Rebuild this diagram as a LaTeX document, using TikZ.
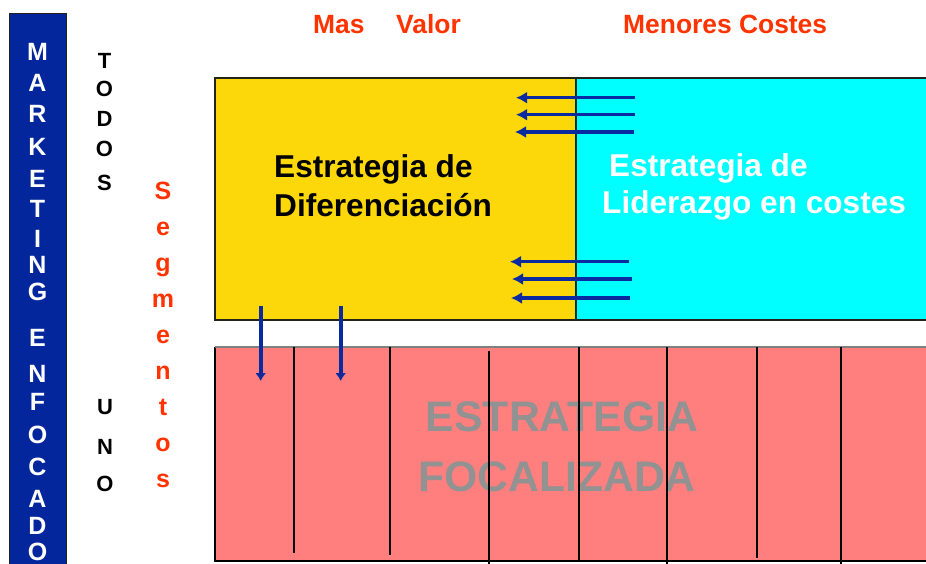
\documentclass[tikz,border=0pt]{standalone}
\usepackage{fontspec}
\setmainfont{Liberation Sans}
\usetikzlibrary{arrows.meta}
\definecolor{azulbarra}{RGB}{3,38,156}
\definecolor{azulflecha}{RGB}{10,42,160}
\definecolor{amarillo}{RGB}{252,216,10}
\definecolor{celeste}{RGB}{0,255,255}
\definecolor{rosa}{RGB}{255,127,127}
\definecolor{rojotexto}{RGB}{255,51,0}
\definecolor{grisfoco}{RGB}{146,146,146}
\definecolor{bordecaja}{RGB}{35,35,25}
\newcommand{\tam}[1]{\fontsize{#1}{#1}\selectfont\bfseries}

\tikzset{
    flecha/.style={-{Latex[length=11pt,width=12pt]}, line width=3.4pt, color=azulflecha},
    flechabaja/.style={-{Latex[length=8pt,width=11pt]}, line width=3.6pt, color=azulflecha},
    letrabarra/.style={inner sep=0pt, text=white, font=\tam{25}},
    letranegra/.style={inner sep=0pt, text=black, font=\tam{22}},
    letraroja/.style={inner sep=0pt, anchor=base, text=rojotexto, font=\tam{25}},
    titulo/.style={inner sep=0pt, anchor=base west, text=rojotexto, font=\tam{26.4}},
    textocaja/.style={inner sep=0pt, anchor=base west, font=\tam{31.6}},
    divisoria/.style={line width=1.2pt, color=black}
}

\begin{document}
\begin{tikzpicture}[x=1pt,y=-1pt]
        \path[use as bounding box, clip] (0,0) rectangle (926,563);

        % barra lateral
        \filldraw[fill=azulbarra, draw=bordecaja, line width=1pt] (9,13) rectangle (66,575);
        \foreach \l/\y [count=\i] in {M/51.7,A/83,R/114,K/146.5,E/179,T/209,I/239,N/265,G/292,
                E/337.5,N/373.4,F/402,O/434.5,C/467,A/499,D/526,O/552}
            \node[letrabarra] (barra\i) at (37.5,\y) {\l};

        % todos / uno
        \foreach \l/\y [count=\i] in {T/61,O/89,D/119,O/149,S/182.5}
            \node[letranegra] (todos\i) at (104.5,\y) {\l};
        \foreach \l/\y [count=\i] in {U/406.7,N/447,O/484}
            \node[letranegra] (uno\i) at (105,\y) {\l};

        % segmentos
        \foreach \l/\y [count=\i] in {S/199,e/235,g/271,m/307,e/343.5,n/379.5,t/415.5,o/451.5,s/487.5}
            \node[letraroja] (seg\i) at (163,\y) {\l};

        % titulos
        \node[titulo] (mas) at (313,33) {Mas};
        \node[titulo] (valor) at (396,33) {Valor};
        \node[titulo] (costes) at (623,33) {Menores Costes};

        % cajas superiores
        \fill[amarillo] (215,78) rectangle (576,320);
        \fill[celeste] (576,78) rectangle (930,320);
        \draw[line width=1.5pt, color=bordecaja] (930,78) -- (215,78) -- (215,320) -- (930,320);
        \draw[line width=1.5pt, color=black!60!teal] (576,78) -- (576,320);

        \node[textocaja] (dif1) at (274,177) {Estrategia de};
        \node[textocaja] (dif2) at (274,216) {Diferenciación};
        \node[textocaja, text=white] (lid1) at (609,176) {Estrategia de};
        \node[textocaja, text=white] (lid2) at (602,213) {Liderazgo en costes};

        \draw[flecha] (635,97.7) -- (516,97.7);
        \draw[flecha] (635,114.7) -- (516,114.7);
        \draw[flecha] (634,132) -- (515,132);
        \draw[flecha] (629,261.7) -- (510,261.7);
        \draw[flecha] (632,279) -- (512,279);
        \draw[flecha] (630,298) -- (511,298);

        % caja focalizada
        \fill[rosa] (215,347) rectangle (930,561);
        \draw[line width=1.2pt, color=black] (215,347) -- (215,561) -- (930,561);
        \draw[line width=1.5pt, color=gray] (215,347) -- (930,347);

        \node[inner sep=0pt, anchor=base, text=grisfoco, font=\tam{42.7}] (foco1) at (562,431) {ESTRATEGIA};
        \node[inner sep=0pt, anchor=base, text=grisfoco, font=\tam{42.7}] (foco2) at (557,491) {FOCALIZADA};

        \foreach \x/\a/\b in {294/347/553,390/347/555,489/351/565,579/347/560,667/347/565,757/347/558,841/347/565}
            \draw[divisoria] (\x,\a) -- (\x,\b);

        \draw[flechabaja] (260.7,306) -- (260.7,381);
        \draw[flechabaja] (340.7,306) -- (340.7,381);

    \end{tikzpicture}
\end{document}
